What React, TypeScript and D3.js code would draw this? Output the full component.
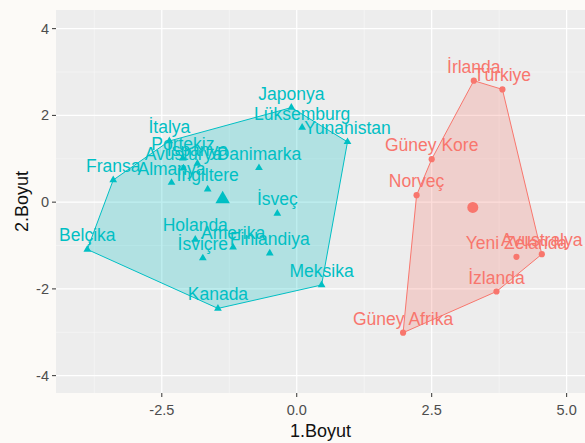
import * as d3 from 'd3';
import { useEffect, useRef } from 'react';

const cluster1Names = ['Japonya', 'Lüksemburg', 'Yunanistan', 'İtalya', 'Portekiz', 'İspanya', 'Avusturya', 'Danimarka', 'Fransa', 'Almanya', 'İngiltere', 'İsveç', 'Belçika', 'Holanda', 'Amerika', 'İsviçre', 'Finlandiya', 'Meksika', 'Kanada']
const cluster1X = [-0.10, 0.10, 0.94, -2.36, -2.11, -1.84, -2.10, -0.70, -3.40, -2.32, -1.65, -0.36, -3.88, -1.88, -1.18, -1.74, -0.50, 0.46, -1.46]
const cluster1Y = [2.18, 1.72, 1.39, 1.41, 1.01, 0.89, 0.78, 0.79, 0.51, 0.45, 0.30, -0.26, -1.09, -0.86, -1.04, -1.29, -1.18, -1.91, -2.45]

const cluster2Names = ['İrlanda', 'Türkiye', 'Güney Kore', 'Norveç', 'Avustralya', 'Yeni Zelanda', 'İzlanda', 'Güney Afrika']
const cluster2X = [3.28, 3.81, 2.50, 2.22, 4.54, 4.07, 3.70, 1.97]
const cluster2Y = [2.80, 2.60, 0.99, 0.16, -1.20, -1.26, -2.06, -3.01]

const xTicks = [-2.5, 0, 2.5, 5]
const xMinor = [-3.75, -1.25, 1.25, 3.75]
const yTicks = [-4, -2, 0, 2, 4]
const yMinor = [-3, -1, 1, 3]

const BLUE = '#00BFC4'
const RED = '#F8766D'
const FONT = '"Liberation Sans", Arial, sans-serif'

export default function App() {
    const svgRef = useRef<SVGSVGElement>(null)

    useEffect(() => {
        drawChart(svgRef.current)
    }, [svgRef])

    return (
        <div>
            <svg ref={svgRef} style={{ position: 'absolute', left: 0, top: 0 }}></svg>
        </div>
    )
}

function drawChart(node: SVGSVGElement | null) {
    if (!node) return
    const w = 585
    const h = 443
    const left = 56, right = 585, top = 10, bottom = 393

    const x = d3.scaleLinear().domain([-4.46, 5.34]).range([left, right])
    const y = d3.scaleLinear().domain([-4.40, 4.43]).range([bottom, top])

    const svg = d3.select(node).attr('width', w).attr('height', h)
    svg.selectAll('*').remove()

    svg.append('rect').attr('width', w).attr('height', h).attr('fill', '#fcfaf7')
    svg.append('rect')
        .attr('x', left).attr('y', top)
        .attr('width', right - left).attr('height', bottom - top)
        .attr('fill', '#ededed')

    const grid = svg.append('g')
    grid.selectAll('.xm').data(xMinor).enter().append('line')
        .attr('x1', d => x(d)).attr('x2', d => x(d)).attr('y1', top).attr('y2', bottom)
        .attr('stroke', '#f7f7f7').attr('stroke-width', 0.6)
    grid.selectAll('.ym').data(yMinor).enter().append('line')
        .attr('y1', d => y(d)).attr('y2', d => y(d)).attr('x1', left).attr('x2', right)
        .attr('stroke', '#f7f7f7').attr('stroke-width', 0.6)
    grid.selectAll('.xM').data(xTicks).enter().append('line')
        .attr('x1', d => x(d)).attr('x2', d => x(d)).attr('y1', top).attr('y2', bottom)
        .attr('stroke', '#ffffff').attr('stroke-width', 1.2)
    grid.selectAll('.yM').data(yTicks).enter().append('line')
        .attr('y1', d => y(d)).attr('y2', d => y(d)).attr('x1', left).attr('x2', right)
        .attr('stroke', '#ffffff').attr('stroke-width', 1.2)

    const groups = [
        { names: cluster1Names, xs: cluster1X, ys: cluster1Y, color: BLUE, shape: d3.symbolTriangle },
        { names: cluster2Names, xs: cluster2X, ys: cluster2Y, color: RED, shape: d3.symbolCircle },
    ]

    groups.forEach(g => {
        const pts: [number, number][] = g.xs.map((v, i) => [x(v), y(g.ys[i])])
        const hull = d3.polygonHull(pts)
        if (hull) {
            svg.append('path')
                .attr('d', 'M' + hull.join('L') + 'Z')
                .attr('fill', g.color).attr('fill-opacity', 0.25)
                .attr('stroke', g.color).attr('stroke-width', 1)
        }
    })

    groups.forEach(g => {
        const pts: [number, number][] = g.xs.map((v, i) => [x(v), y(g.ys[i])])
        const small = d3.symbol().type(g.shape).size(g.shape === d3.symbolCircle ? 30 : 26)
        const big = d3.symbol().type(g.shape).size(g.shape === d3.symbolCircle ? 95 : 90)
        svg.selectAll(null).data(pts).enter().append('path')
            .attr('d', small)
            .attr('transform', d => `translate(${d[0]},${d[1]})`)
            .attr('fill', g.color)
        const cx = d3.mean(g.xs) as number
        const cy = d3.mean(g.ys) as number
        svg.append('path')
            .attr('d', big)
            .attr('transform', `translate(${x(cx)},${y(cy)})`)
            .attr('fill', g.color)
    })

    groups.forEach(g => {
        svg.selectAll(null).data(g.names).enter().append('text')
            .attr('x', (d, i) => x(g.xs[i]))
            .attr('y', (d, i) => y(g.ys[i]) - 8)
            .attr('text-anchor', 'middle')
            .attr('font-family', FONT)
            .attr('font-size', 17.5)
            .attr('fill', g.color)
            .text(d => d)
    })

    // axes
    svg.selectAll('.xt').data(xTicks).enter().append('line')
        .attr('x1', d => x(d)).attr('x2', d => x(d)).attr('y1', bottom).attr('y2', bottom + 4)
        .attr('stroke', '#333').attr('stroke-width', 1)
    svg.selectAll('.xl').data(xTicks).enter().append('text')
        .attr('x', d => x(d)).attr('y', bottom + 22)
        .attr('text-anchor', 'middle')
        .attr('font-family', FONT).attr('font-size', 14.5).attr('fill', '#4d4d4d')
        .text(d => d3.format('.1f')(d).replace('−', '-'))
    svg.selectAll('.yt').data(yTicks).enter().append('line')
        .attr('y1', d => y(d)).attr('y2', d => y(d)).attr('x1', left - 4).attr('x2', left)
        .attr('stroke', '#333').attr('stroke-width', 1)
    svg.selectAll('.yl').data(yTicks).enter().append('text')
        .attr('x', left - 7).attr('y', d => y(d) + 5)
        .attr('text-anchor', 'end')
        .attr('font-family', FONT).attr('font-size', 14.5).attr('fill', '#4d4d4d')
        .text(d => String(d).replace('−', '-'))

    svg.append('text')
        .attr('x', (left + right) / 2).attr('y', 437)
        .attr('text-anchor', 'middle')
        .attr('font-family', FONT).attr('font-size', 18).attr('fill', '#111')
        .text('1.Boyut')
    svg.append('text')
        .attr('transform', `translate(28,${(top + bottom) / 2}) rotate(-90)`)
        .attr('text-anchor', 'middle')
        .attr('font-family', FONT).attr('font-size', 18).attr('fill', '#111')
        .text('2.Boyut')
}
